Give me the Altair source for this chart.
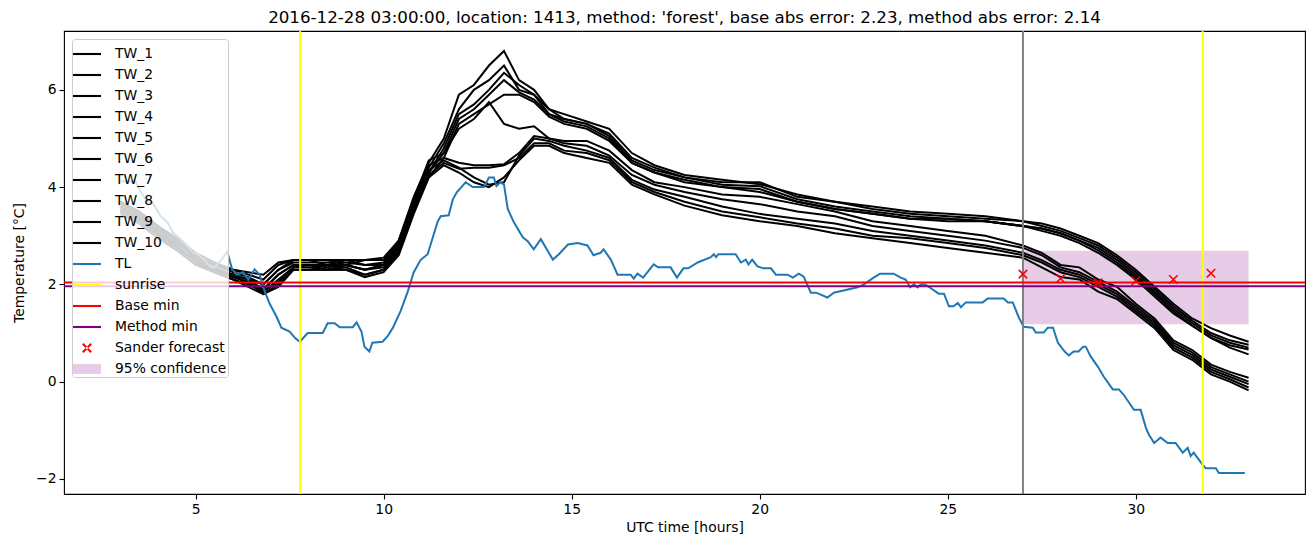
import altair as alt
import pandas as pd

TITLE = "2016-12-28 03:00:00, location: 1413, method: 'forest', base abs error: 2.23, method abs error: 2.14"

HOURS = [3.0, 3.5, 4.0, 4.5, 5.0, 5.5, 6.0, 6.4, 6.8, 7.2, 7.6, 8.0, 8.5, 9.0, 9.5, 10.0,
         10.4, 10.8, 11.2, 11.6, 12.0, 12.4, 12.8, 13.2, 13.6, 14.0, 14.4, 14.8, 15.4, 16.0,
         16.6, 17.2, 18.0, 19.0, 20.0, 21.0, 22.0, 23.0, 24.0, 25.0, 26.0, 27.0, 27.5, 28.0,
         28.5, 29.0, 29.5, 30.0, 30.5, 31.0, 31.5, 32.0, 32.5, 33.0]

TW_1 = [3.7, 3.5, 3.2, 2.9, 2.6, 2.4, 2.3, 2.2, 2.1, 2.4, 2.5, 2.5, 2.5, 2.5, 2.5, 2.5,
        2.9, 3.8, 4.5, 5.0, 5.9, 6.1, 6.5, 6.8, 6.2, 6.0, 5.6, 5.4, 5.3, 5.1,
        4.6, 4.4, 4.2, 4.1, 4.1, 3.8, 3.7, 3.6, 3.5, 3.45, 3.4, 3.3, 3.25, 3.15,
        3.0, 2.85, 2.6, 2.3, 1.95, 1.6, 1.3, 1.1, 0.95, 0.82]
TW_2 = [3.6, 3.4, 3.1, 2.85, 2.55, 2.35, 2.2, 2.1, 2.0, 2.3, 2.5, 2.5, 2.4, 2.5, 2.4, 2.4,
        2.8, 3.7, 4.4, 4.9, 5.6, 6.0, 6.2, 6.5, 6.0, 5.9, 5.6, 5.5, 5.35, 5.2,
        4.7, 4.45, 4.25, 4.15, 4.06, 3.85, 3.7, 3.55, 3.45, 3.4, 3.35, 3.3, 3.2, 3.1,
        2.95, 2.8, 2.55, 2.25, 1.9, 1.55, 1.25, 1.0, 0.85, 0.76]
TW_3 = [3.65, 3.45, 3.15, 2.9, 2.5, 2.3, 2.2, 2.0, 1.9, 2.2, 2.4, 2.4, 2.4, 2.4, 2.3, 2.4,
        2.75, 3.6, 4.3, 4.8, 5.5, 5.7, 6.0, 6.35, 6.1, 5.9, 5.5, 5.4, 5.3, 5.05,
        4.55, 4.35, 4.2, 4.05, 4.02, 3.75, 3.6, 3.5, 3.4, 3.35, 3.3, 3.2, 3.15, 3.05,
        2.9, 2.75, 2.5, 2.2, 1.85, 1.5, 1.2, 0.95, 0.8, 0.7]
TW_4 = [3.55, 3.35, 3.05, 2.8, 2.45, 2.3, 2.15, 2.05, 1.85, 2.1, 2.35, 2.4, 2.3, 2.4, 2.3, 2.35,
        2.7, 3.55, 4.3, 4.7, 5.4, 5.6, 5.9, 6.2, 5.95, 5.8, 5.5, 5.35, 5.25, 5.0,
        4.5, 4.3, 4.15, 4.0, 3.96, 3.7, 3.55, 3.45, 3.35, 3.35, 3.3, 3.2, 3.15, 3.05,
        2.9, 2.7, 2.45, 2.15, 1.8, 1.45, 1.15, 0.9, 0.75, 0.66]
TW_5 = [3.5, 3.3, 3.0, 2.75, 2.45, 2.25, 2.1, 1.95, 1.8, 2.0, 2.3, 2.3, 2.3, 2.3, 2.2, 2.3,
        2.65, 3.5, 4.2, 4.6, 5.3, 5.5, 5.7, 5.9, 5.9, 5.75, 5.45, 5.3, 5.2, 4.95,
        4.5, 4.3, 4.1, 4.0, 3.9, 3.7, 3.55, 3.45, 3.35, 3.3, 3.3, 3.2, 3.1, 3.0,
        2.85, 2.65, 2.4, 2.1, 1.75, 1.4, 1.15, 0.9, 0.7, 0.56]
TW_6 = [3.7, 3.45, 3.2, 2.95, 2.65, 2.45, 2.3, 2.25, 2.2, 2.45, 2.5, 2.5, 2.5, 2.4, 2.5, 2.55,
        2.9, 3.75, 4.55, 4.7, 5.2, 5.4, 5.75, 5.3, 5.2, 5.25, 5.0, 4.95, 4.95, 4.75,
        4.35, 4.1, 4.0, 3.85, 3.8, 3.65, 3.5, 3.3, 3.2, 3.1, 3.0, 2.8, 2.65, 2.4,
        2.35, 2.1, 1.95, 1.6, 1.3, 0.85, 0.65, 0.35, 0.2, 0.08]
TW_7 = [3.6, 3.4, 3.1, 2.85, 2.55, 2.4, 2.25, 2.15, 2.0, 2.3, 2.45, 2.45, 2.45, 2.45, 2.4, 2.45,
        2.85, 3.7, 4.45, 4.6, 4.5, 4.45, 4.45, 4.47, 4.7, 5.05, 5.0, 4.9, 4.85, 4.65,
        4.25, 4.05, 3.9, 3.75, 3.65, 3.5, 3.4, 3.2, 3.1, 3.0, 2.9, 2.75, 2.6, 2.35,
        2.25, 2.05, 1.85, 1.55, 1.25, 0.8, 0.6, 0.3, 0.15, 0.0]
TW_8 = [3.5, 3.3, 3.0, 2.75, 2.5, 2.3, 2.2, 2.1, 1.9, 2.2, 2.4, 2.4, 2.35, 2.4, 2.3, 2.4,
        2.8, 3.65, 4.35, 4.55, 4.4, 4.2, 4.05, 4.1, 4.65, 5.0, 4.95, 4.85, 4.75, 4.6,
        4.15, 3.95, 3.8, 3.6, 3.45, 3.35, 3.25, 3.1, 3.0, 2.9, 2.8, 2.65, 2.5, 2.3,
        2.2, 2.0, 1.8, 1.5, 1.2, 0.75, 0.55, 0.25, 0.1, -0.05]
TW_9 = [3.45, 3.25, 2.95, 2.7, 2.4, 2.25, 2.1, 2.0, 1.85, 2.05, 2.35, 2.35, 2.3, 2.35, 2.2, 2.3,
        2.7, 3.5, 4.25, 4.5, 4.38, 4.4, 4.4, 4.45, 4.6, 4.9, 4.9, 4.75, 4.7, 4.55,
        4.1, 3.9, 3.7, 3.5, 3.38, 3.25, 3.15, 3.0, 2.95, 2.85, 2.75, 2.6, 2.45, 2.25,
        2.15, 1.95, 1.75, 1.45, 1.15, 0.7, 0.5, 0.2, 0.05, -0.12]
TW_10 = [3.55, 3.35, 3.05, 2.8, 2.45, 2.3, 2.15, 2.05, 1.8, 1.95, 2.3, 2.3, 2.3, 2.3, 2.15, 2.25,
         2.6, 3.45, 4.2, 4.45, 4.3, 4.1, 4.0, 4.2, 4.55, 4.85, 4.85, 4.7, 4.6, 4.5,
         4.05, 3.85, 3.62, 3.42, 3.3, 3.2, 3.05, 2.95, 2.85, 2.75, 2.65, 2.55, 2.35, 2.15,
         2.1, 1.85, 1.7, 1.4, 1.1, 0.65, 0.45, 0.15, 0.0, -0.18]
TW_SERIES = [TW_1, TW_2, TW_3, TW_4, TW_5, TW_6, TW_7, TW_8, TW_9, TW_10]

TL_POINTS = [
    (3.0, 4.12), (3.4, 4.12), (3.5, 3.96), (3.72, 3.69), (3.85, 3.69), (4.07, 3.4), (4.25, 3.28),
    (4.39, 3.07), (4.6, 2.93), (4.79, 2.79), (4.92, 2.66), (5.05, 2.62), (5.21, 2.52), (5.4, 2.37),
    (5.5, 2.35), (5.7, 2.52), (5.84, 2.68), (5.97, 2.31), (6.1, 2.2), (6.26, 2.25), (6.4, 2.1),
    (6.57, 2.31), (6.7, 2.2), (6.84, 1.85), (6.97, 1.6), (7.15, 1.34), (7.28, 1.11), (7.5, 1.03),
    (7.64, 0.9), (7.77, 0.82), (7.98, 1.0), (8.38, 1.0), (8.51, 1.2), (8.7, 1.2), (8.83, 1.12),
    (9.18, 1.12), (9.28, 1.22), (9.41, 1.03), (9.49, 0.72), (9.62, 0.62), (9.7, 0.8), (9.97, 0.82),
    (10.1, 0.93), (10.24, 1.1), (10.45, 1.45), (10.64, 1.85), (10.8, 2.25), (10.98, 2.5),
    (11.17, 2.62), (11.3, 2.95), (11.44, 3.3), (11.52, 3.4), (11.73, 3.42), (11.84, 3.75),
    (11.95, 3.9), (12.18, 4.1), (12.37, 4.0), (12.67, 4.0), (12.8, 4.2), (12.93, 4.2), (13.0, 4.02),
    (13.1, 4.1), (13.2, 4.05), (13.3, 3.55), (13.46, 3.28), (13.7, 2.97), (13.83, 2.89),
    (13.99, 2.72), (14.18, 2.93), (14.5, 2.51), (14.66, 2.62), (14.9, 2.82), (15.16, 2.85),
    (15.42, 2.8), (15.58, 2.6), (15.77, 2.65), (15.85, 2.72), (16.04, 2.51), (16.22, 2.2),
    (16.57, 2.2), (16.65, 2.12), (16.75, 2.22), (16.9, 2.14), (17.18, 2.41), (17.3, 2.35),
    (17.63, 2.35), (17.8, 2.14), (17.97, 2.33), (18.1, 2.33), (18.35, 2.45), (18.7, 2.56),
    (18.78, 2.62), (18.84, 2.56), (18.9, 2.62), (19.36, 2.62), (19.5, 2.45), (19.63, 2.51),
    (19.7, 2.41), (19.8, 2.51), (19.94, 2.37), (20.1, 2.33), (20.3, 2.33), (20.43, 2.2),
    (20.74, 2.2), (20.88, 2.14), (21.04, 2.22), (21.17, 2.16), (21.36, 1.83), (21.5, 1.83),
    (21.8, 1.73), (21.97, 1.83), (22.6, 1.94), (22.77, 2.0), (23.03, 2.14), (23.2, 2.22),
    (23.56, 2.22), (23.75, 2.14), (23.88, 2.1), (24.0, 1.94), (24.1, 2.0), (24.2, 1.94),
    (24.28, 2.0), (24.4, 2.0), (24.55, 1.92), (24.76, 1.81), (24.9, 1.81), (25.03, 1.55),
    (25.15, 1.55), (25.27, 1.62), (25.35, 1.53), (25.48, 1.63), (25.93, 1.63), (26.06, 1.71),
    (26.49, 1.71), (26.6, 1.63), (26.73, 1.63), (26.89, 1.32), (27.02, 1.13), (27.26, 1.11),
    (27.34, 1.01), (27.55, 1.01), (27.66, 1.11), (27.8, 1.11), (27.93, 0.8), (28.11, 0.62),
    (28.22, 0.54), (28.35, 0.62), (28.48, 0.62), (28.6, 0.72), (28.67, 0.72), (28.8, 0.52),
    (28.99, 0.31), (29.15, 0.1), (29.39, -0.16), (29.55, -0.16), (29.68, -0.27), (29.95, -0.58),
    (30.13, -0.58), (30.27, -0.95), (30.35, -1.09), (30.49, -1.26), (30.66, -1.15), (30.85, -1.26),
    (31.06, -1.26), (31.25, -1.46), (31.38, -1.36), (31.46, -1.53), (31.54, -1.46), (31.78, -1.71),
    (31.86, -1.78), (32.13, -1.78), (32.21, -1.88), (32.9, -1.88),
]

SUNRISE_HOURS = [7.78, 31.78]
FORECAST_HOUR = [27.0]
BASE_MIN = [2.04]
METHOD_MIN = [1.96]
SANDER_HOURS = [27, 28, 29, 30, 31, 32]
SANDER_VALUES = [2.21, 2.12, 2.03, 2.07, 2.10, 2.23]
CONF_HOURS = [27.0, 33.0]
CONF_BOUNDS = [1.18, 2.69]

X_TICKS = [5, 10, 15, 20, 25, 30]
Y_TICKS = [-2, 0, 2, 4, 6]

LEGEND_LABELS = [f"TW_{i}" for i in range(1, 11)] + ["TL", "sunrise", "Base min", "Method min",
                                                      "Sander forecast", "95% confidence"]
LEGEND_COLORS = ["#000000"] * 10 + ["#1f77b4", "#ffff00", "#ff0000", "#800080", "#ff0000", "#e6cce6"]

LINE_PATH = "M-1,-0.075L1,-0.075L1,0.075L-1,0.075Z"
X_PATH = ("M-0.247,-0.353L0.353,0.247L0.247,0.353L-0.353,-0.247Z"
          "M0.247,-0.353L-0.353,0.247L-0.247,0.353L0.353,-0.247Z")
PATCH_PATH = "M-1,-0.35L1,-0.35L1,0.35L-1,0.35Z"
LEGEND_SHAPES = [LINE_PATH] * 14 + [X_PATH, PATCH_PATH]

FONT = "DejaVu Sans"
FS = 13.9

# ---- data tables ----
tw_rows = []
for i, series in enumerate(TW_SERIES, start=1):
    assert len(series) == len(HOURS)
    for h, v in zip(HOURS, series):
        tw_rows.append({"hour": h, "temp": v, "series": f"TW_{i}"})
tw_df = pd.DataFrame(tw_rows)
tl_df = pd.DataFrame(TL_POINTS, columns=["hour", "temp"])
sander_df = pd.DataFrame({"hour": SANDER_HOURS, "temp": SANDER_VALUES})
conf_df = pd.DataFrame({"x1": [CONF_HOURS[0]], "x2": [CONF_HOURS[1]],
                        "y1": [CONF_BOUNDS[0]], "y2": [CONF_BOUNDS[1]]})
legend_df = pd.DataFrame({"label": LEGEND_LABELS, "hour": [None] * len(LEGEND_LABELS),
                          "temp": [None] * len(LEGEND_LABELS)})

xs = alt.Scale(domain=[1.5, 34.5], nice=False, zero=False)
ys = alt.Scale(domain=[-2.31, 7.21], nice=False, zero=False)
x_axis = alt.Axis(values=X_TICKS, title="UTC time [hours]", grid=False, domain=False,
                  tickSize=5, labelPadding=3, titlePadding=5, format="d")
y_axis = alt.Axis(values=Y_TICKS, title="Temperature [°C]", grid=False, domain=False,
                  tickSize=5, labelPadding=3, titlePadding=9, format="d")

conf = alt.Chart(conf_df).mark_rect(color="purple", opacity=0.2).encode(
    x=alt.X("x1:Q", scale=xs, axis=x_axis), x2="x2:Q",
    y=alt.Y("y1:Q", scale=ys, axis=y_axis), y2="y2:Q")

tw = alt.Chart(tw_df).mark_line(color="black", strokeWidth=2).encode(
    x=alt.X("hour:Q", scale=xs, axis=x_axis),
    y=alt.Y("temp:Q", scale=ys, axis=y_axis),
    detail="series:N", order="hour:Q")

tl = alt.Chart(tl_df).mark_line(color="#1f77b4", strokeWidth=2).encode(
    x=alt.X("hour:Q", scale=xs, axis=x_axis),
    y=alt.Y("temp:Q", scale=ys, axis=y_axis), order="hour:Q")

sunrise = alt.Chart(pd.DataFrame({"hour": SUNRISE_HOURS})).mark_rule(
    color="#ffff00", strokeWidth=2).encode(x=alt.X("hour:Q", scale=xs, axis=x_axis))
fc = alt.Chart(pd.DataFrame({"hour": FORECAST_HOUR})).mark_rule(
    color="#808080", strokeWidth=2).encode(x=alt.X("hour:Q", scale=xs, axis=x_axis))
base = alt.Chart(pd.DataFrame({"temp": BASE_MIN})).mark_rule(
    color="#ff0000", strokeWidth=2).encode(y=alt.Y("temp:Q", scale=ys, axis=y_axis))
method = alt.Chart(pd.DataFrame({"temp": METHOD_MIN})).mark_rule(
    color="#800080", strokeWidth=2).encode(y=alt.Y("temp:Q", scale=ys, axis=y_axis))

sander = alt.Chart(sander_df).mark_point(
    shape="M-1,-1L1,1M-1,1L1,-1", size=72, filled=False, color="#ff0000",
    strokeWidth=1.6, opacity=1).encode(
    x=alt.X("hour:Q", scale=xs, axis=x_axis),
    y=alt.Y("temp:Q", scale=ys, axis=y_axis))

leg = alt.Legend(title=None, orient="top-left", offset=8, fillColor="rgba(255,255,255,0.8)",
                 strokeColor="#cccccc", cornerRadius=3, padding=1,
                 labelFont=FONT, labelFontSize=FS, labelColor="black", labelOffset=14,
                 symbolSize=784, symbolStrokeWidth=0, rowPadding=0, labelLimit=300)
legend_layer = alt.Chart(legend_df).mark_point(filled=True, opacity=1, clip=True).encode(
    x=alt.X("hour:Q", scale=xs, axis=x_axis),
    y=alt.Y("temp:Q", scale=ys, axis=y_axis),
    color=alt.Color("label:N", scale=alt.Scale(domain=LEGEND_LABELS, range=LEGEND_COLORS), legend=leg),
    shape=alt.Shape("label:N", scale=alt.Scale(domain=LEGEND_LABELS, range=LEGEND_SHAPES), legend=leg),
)

chart = alt.layer(conf, tw, tl, sunrise, fc, base, method, sander, legend_layer).properties(
    width=1241, height=463,
    padding={"left": 64, "top": 31, "right": 8, "bottom": 53},
    autosize=alt.AutoSizeParams(type="none"),
    title=alt.TitleParams(TITLE, font=FONT, fontSize=16.7, fontWeight="normal",
                          color="black", anchor="middle", offset=3),
).configure_view(stroke="black", strokeWidth=1.1).configure_axis(
    labelFont=FONT, titleFont=FONT, labelFontSize=FS, titleFontSize=FS,
    labelColor="black", titleColor="black", tickColor="black", titleFontWeight="normal",
    tickWidth=1.1,
)

chart.save("out.html", embed_options={"renderer": "svg", "actions": False})
